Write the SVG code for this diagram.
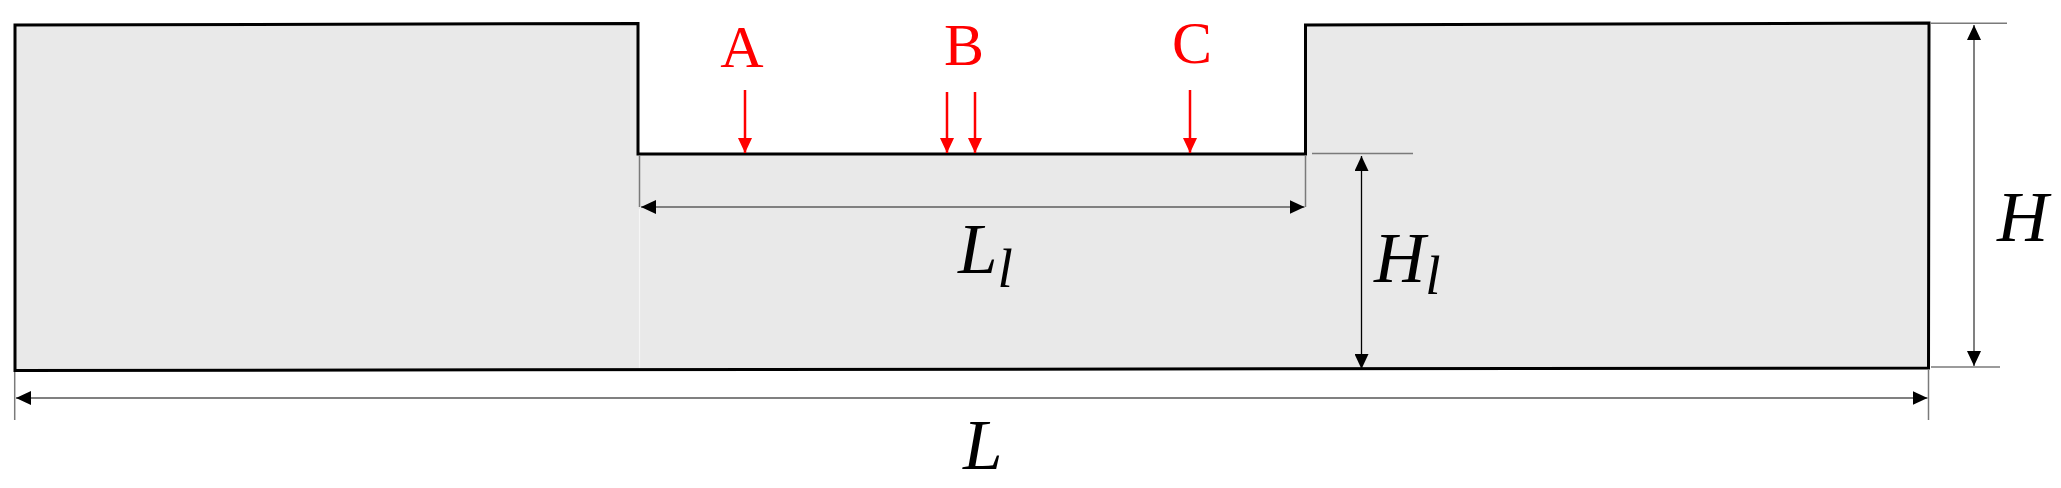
<svg xmlns="http://www.w3.org/2000/svg" width="2061" height="488" viewBox="0 0 2061 488">
<style>
.body{fill:#e9e9e9;stroke:#000;stroke-width:3;stroke-linejoin:miter}
.dim{fill:none;stroke:#808080;stroke-width:2}
.ext{fill:none;stroke:#7a7a7a;stroke-width:1.5}
.red{fill:none;stroke:#ff0000;stroke-width:2.5}
.lbl{font-family:"Liberation Serif","Times New Roman",serif;font-size:60px;fill:#ff0000;text-anchor:middle}
.math{font-family:"Liberation Serif","Times New Roman",serif;font-style:italic;font-size:71px;fill:#000}
.sub{font-size:55px}
</style>
<defs>
<marker id="ah" markerUnits="userSpaceOnUse" markerWidth="16" markerHeight="14" refX="15" refY="7" orient="auto-start-reverse">
<path d="M0,0 L15,7 L0,14 Z" fill="#000"/>
</marker>
<marker id="ahr" markerUnits="userSpaceOnUse" markerWidth="16" markerHeight="14" refX="15" refY="7" orient="auto">
<path d="M0,0 L15,7 L0,14 Z" fill="#ff0000"/>
</marker>
</defs>
<g id="domain">
<polygon class="body" points="15,25 638,23.5 638,154 1305.5,154 1305.5,25 1929,23 1928.5,368 15,370.5"/>
<line x1="639.5" y1="209" x2="639.5" y2="368" stroke="#f6f6f6" stroke-width="1.2"/>
</g>
<g id="connectors">
<line class="ext" x1="639.5" y1="155" x2="639.5" y2="207"/>
<line class="ext" x1="1305.5" y1="155" x2="1305.5" y2="207" stroke="#555"/>
<line class="dim" x1="641" y1="207" x2="1304.5" y2="207" marker-start="url(#ah)" marker-end="url(#ah)"/>
<line class="ext" x1="1312" y1="153.5" x2="1413" y2="153.5" stroke-width="2"/>
<line x1="1361.5" y1="156" x2="1361.5" y2="369" stroke="#000" stroke-width="1.3" marker-start="url(#ah)" marker-end="url(#ah)"/>
<line class="ext" x1="1931" y1="23.3" x2="2007" y2="23.3" stroke="#999" stroke-width="2"/>
<line class="ext" x1="1931" y1="367" x2="2000" y2="367" stroke="#888" stroke-width="2"/>
<line class="dim" x1="1974" y1="25" x2="1974" y2="366" stroke="#999" marker-start="url(#ah)" marker-end="url(#ah)"/>
<line class="ext" x1="14.7" y1="372" x2="14.7" y2="420"/>
<line class="ext" x1="1928.5" y1="370" x2="1928.5" y2="420"/>
<line class="dim" x1="16" y1="398" x2="1927.5" y2="398" marker-start="url(#ah)" marker-end="url(#ah)"/>
</g>
<g id="probe-A">
<text class="lbl" x="742" y="67">A</text>
<line class="red" x1="745" y1="90" x2="745" y2="153" marker-end="url(#ahr)"/>
</g>
<g id="probe-B">
<text class="lbl" x="964" y="65">B</text>
<line class="red" x1="947" y1="92" x2="947" y2="153" marker-end="url(#ahr)"/>
<line class="red" x1="975" y1="92" x2="975" y2="153" marker-end="url(#ahr)"/>
</g>
<g id="probe-C">
<text class="lbl" x="1192" y="63">C</text>
<line class="red" x1="1190" y1="90" x2="1190" y2="153" marker-end="url(#ahr)"/>
</g>
<g id="labels">
<text class="math" x="958" y="273">L<tspan class="sub" dy="14">l</tspan></text>
<text class="math" x="1374" y="282">H<tspan class="sub" dy="12">l</tspan></text>
<text class="math" x="1997" y="241">H</text>
<text class="math" x="963" y="469">L</text>
</g>
</svg>
